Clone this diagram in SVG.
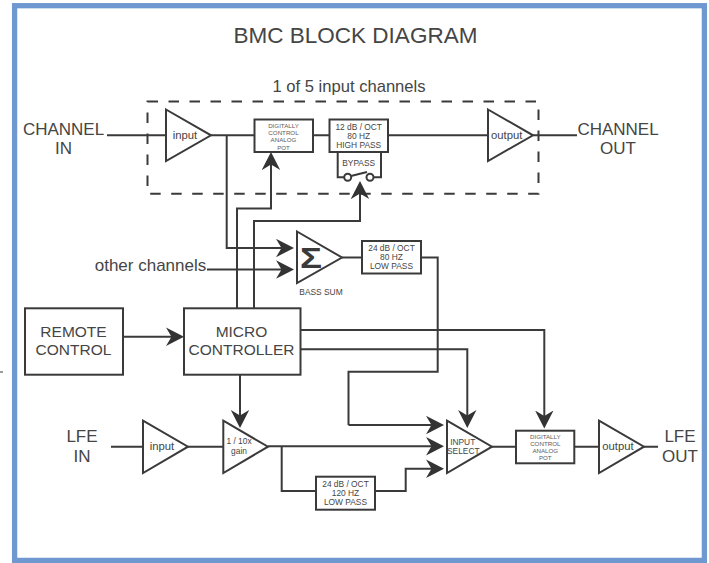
<svg xmlns="http://www.w3.org/2000/svg" width="709" height="563" viewBox="0 0 709 563">
<style>
text{font-family:"Liberation Sans",Arial,Helvetica,sans-serif;fill:#454545;text-anchor:middle}
.s{fill:#fff;stroke:#3a3a3a;stroke-width:2}
.c{fill:none;stroke:#3a3a3a;stroke-width:2}
.a{marker-end:url(#arr)}
.t17{font-size:17px}.t155{font-size:15.5px}.t115{font-size:11.3px}.t85{font-size:8.4px}.t62{font-size:6.2px;fill:#5a5a5a}
</style>
<defs>
<marker id="arr" markerUnits="userSpaceOnUse" markerWidth="26" markerHeight="20" refX="12" refY="9.500" orient="auto" viewBox="0 0 26 20">
<path d="M18 9.500L0 0.300L5.500 9.500L0 18.700Z" fill="#333"/>
</marker>
</defs>
<rect x="14.600" y="5.700" width="689.800" height="554.700" fill="#fff" stroke="#6f98d0" stroke-width="5.300"/>
<path d="M0 372H3" stroke="#3a3a3a" stroke-width="1" fill="none"/>
<text id="title" x="355.500" y="42.700" style="font-size:22.500px">BMC BLOCK DIAGRAM</text>
<text id="subtitle" x="349" y="91.700" style="font-size:16.600px">1 of 5 input channels</text>
<g id="channel-frame"><rect x="147.500" y="101.500" width="391" height="92.200" fill="none" stroke="#3a3a3a" stroke-width="2" stroke-dasharray="10.500 10.500"/></g>
<g id="connectors">
<path class="c" d="M107 135.300H166M211 135.300H254M313 135.300H329.500M388 135.300H488M533 135.300H577"/>
<path class="c a" d="M226.700 135.300V248H288"/>
<path class="c a" d="M207 269.500H288"/>
<path class="c a" d="M237 308.300V208.500H271V158"/>
<path class="c a" d="M254 308.300V221H360V187"/>
<path class="c" d="M342 257.500H362M421 257.500H437.700V371.700H348.500V425"/>
<path class="c a" d="M348.500 425H438"/>
<path class="c a" d="M123 336.700H178"/>
<path class="c a" d="M300.500 330H544.300V422.500"/>
<path class="c a" d="M300.500 349.300H467.300V422"/>
<path class="c a" d="M240 374.700V422"/>
<path class="c" d="M111 446.700H143M188 446.700H223.300"/>
<path class="c a" d="M268 446.300H438"/>
<path class="c" d="M281.700 446.300V491H316"/>
<path class="c a" d="M375 491H405.700V468.700H438"/>
<path class="c" d="M492 446.700H516M574.300 446.700H599M644 446.700H658"/>
</g>
<g id="channel-in"><text class="t17" x="63.500" y="135">CHANNEL</text><text class="t17" x="63.500" y="154.300">IN</text></g>
<g id="channel-out"><text class="t17" x="618" y="135">CHANNEL</text><text class="t17" x="618" y="154.300">OUT</text></g>
<g id="input-amp"><path class="s" d="M166 109.500L211 135.300L166 161Z"/><text class="t115" x="185" y="139">input</text></g>
<g id="pot-1"><rect class="s" x="254.500" y="119.500" width="58.500" height="32.500"/><text class="t62" x="283.500" y="127.500">DIGITALLY</text><text class="t62" x="283.500" y="134.700">CONTROL</text><text class="t62" x="283.500" y="141.500">ANALOG</text><text class="t62" x="283.500" y="149.700">POT</text></g>
<g id="high-pass"><rect class="s" x="329.500" y="119.500" width="58.500" height="32.500"/><text class="t85" x="358.700" y="130">12 dB / OCT</text><text class="t85" x="358.700" y="138.800">80 HZ</text><text class="t85" x="358.700" y="147.700">HIGH PASS</text></g>
<g id="bypass"><path class="c" d="M337.700 152V177.300H344.200M373.500 177.300H381V152"/><path class="c" d="M351 176L367 172"/><circle class="s" cx="347.700" cy="177.300" r="3.500"/><circle class="s" cx="370" cy="177.300" r="3.500"/><text class="t85" x="358.700" y="165.700">BYPASS</text></g>
<g id="output-amp"><path class="s" d="M488 109.500L533 135.300L488 161Z"/><text class="t115" x="506.700" y="139">output</text></g>
<g id="bass-sum"><path class="s" d="M297 231.500L342 257.500L297 283Z"/><text x="311" y="268" textLength="22" lengthAdjust="spacingAndGlyphs" style="font-size:29px;font-weight:700;fill:#3a3a3a">Σ</text><text class="t85" x="321" y="295">BASS SUM</text></g>
<g id="low-pass-80"><rect class="s" x="362" y="241" width="59" height="32.500"/><text class="t85" x="391.500" y="250.700">24 dB / OCT</text><text class="t85" x="391.500" y="259.700">80 HZ</text><text class="t85" x="391.500" y="268.700">LOW PASS</text></g>
<text id="other-channels" x="150.500" y="270.700" style="font-size:17px">other channels</text>
<g id="remote-control"><rect class="s" x="25" y="308.300" width="98" height="66.400"/><text class="t155" x="73.500" y="337.300">REMOTE</text><text class="t155" x="73.500" y="355.300">CONTROL</text></g>
<g id="micro-controller"><rect class="s" x="184" y="308.300" width="116.500" height="66.400"/><text class="t155" x="241.500" y="337.300">MICRO</text><text class="t155" x="241.500" y="355.300">CONTROLLER</text></g>
<g id="lfe-in"><text class="t17" x="82" y="442.300">LFE</text><text class="t17" x="82" y="461.700">IN</text></g>
<g id="lfe-input"><path class="s" d="M143 420.700L188 446.700L143 473Z"/><text class="t115" x="162" y="450">input</text></g>
<g id="gain"><path class="s" d="M223.300 420.700L268 446.700L223.300 473Z"/><text class="t85" x="239" y="444.300">1 / 10x</text><text class="t85" x="239" y="454.300">gain</text></g>
<g id="low-pass-120"><rect class="s" x="316" y="476.700" width="59" height="33"/><text class="t85" x="345.500" y="486.700">24 dB / OCT</text><text class="t85" x="345.500" y="495.700">120 HZ</text><text class="t85" x="345.500" y="504.700">LOW PASS</text></g>
<g id="input-select"><path class="s" d="M447 420.700L492 446.700L447 473Z"/><text class="t85" x="462.700" y="445">INPUT</text><text class="t85" x="463.300" y="453.700">SELECT</text></g>
<g id="pot-2"><rect class="s" x="516" y="430.700" width="58.300" height="32.600"/><text class="t62" x="545.300" y="438.700">DIGITALLY</text><text class="t62" x="545.300" y="445.700">CONTROL</text><text class="t62" x="545.300" y="452.700">ANALOG</text><text class="t62" x="545.300" y="460.400">POT</text></g>
<g id="lfe-output"><path class="s" d="M599 420.700L644 446.700L599 473Z"/><text class="t115" x="618" y="450">output</text></g>
<g id="lfe-out"><text class="t17" x="680" y="442.300">LFE</text><text class="t17" x="680" y="461.700">OUT</text></g>
</svg>
